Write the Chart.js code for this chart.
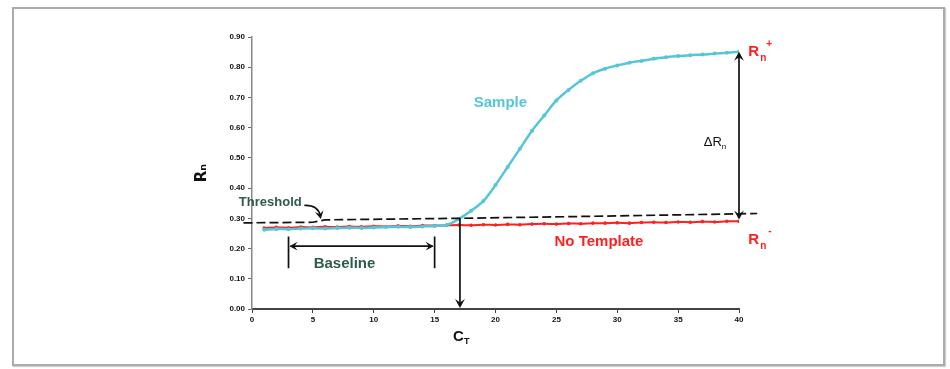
<!DOCTYPE html>
<html>
<head>
<meta charset="utf-8">
<script src="https://cdn.jsdelivr.net/npm/chart.js@4.4.1/dist/chart.umd.min.js"></script>
<style>
  body { margin: 0; background: #fff; }
  #wrap { position: relative; width: 950px; height: 369px; }
  #frame { position: absolute; left: 12px; top: 7px; width: 929px; height: 355px; border: 2px solid #ababab; box-shadow: 1px 1px 1px #d0d0d0; }
  #myChart { position: absolute; left: 0; top: 0; }
</style>
</head>
<body>
<div id="wrap">
  <div id="frame"></div>
  <canvas id="myChart" width="950" height="369"></canvas>
</div>
<script>
// amplification plot data
const cycles = [1, 2, 3, 4, 5, 6, 7, 8, 9, 10, 11, 12, 13, 14, 15, 16, 17, 18, 19, 20,
  21, 22, 23, 24, 25, 26, 27, 28, 29, 30, 31, 32, 33, 34, 35, 36, 37, 38, 39, 40]
const sampleRn = [0.262, 0.265, 0.264, 0.266, 0.267, 0.266, 0.268, 0.269, 0.268, 0.270,
  0.271, 0.272, 0.271, 0.273, 0.275, 0.278, 0.298, 0.325, 0.357, 0.410,
  0.470, 0.530, 0.590, 0.640, 0.690, 0.725, 0.755, 0.780, 0.795, 0.806,
  0.815, 0.821, 0.828, 0.833, 0.837, 0.840, 0.842, 0.845, 0.848, 0.851]
const noTemplateRn = [0.268, 0.270, 0.269, 0.271, 0.270, 0.272, 0.271, 0.273, 0.272, 0.274,
  0.273, 0.275, 0.274, 0.276, 0.276, 0.277, 0.278, 0.277, 0.279, 0.278,
  0.280, 0.279, 0.281, 0.282, 0.281, 0.283, 0.282, 0.284, 0.284, 0.285,
  0.284, 0.286, 0.287, 0.286, 0.288, 0.287, 0.289, 0.288, 0.290, 0.290]
const thresholdX = [-0.7, 5, 6, 17, 30, 41.5]
const thresholdY = [0.285, 0.287, 0.295, 0.300, 0.308, 0.316]
const xTickLabels = ['0', '5', '10', '15', '20', '25', '30', '35', '40']
const yTickLabels = ['0.00', '0.10', '0.20', '0.30', '0.40', '0.50', '0.60', '0.70', '0.80', '0.90']

const cyan = '#55c6d6'
const red = '#ff1f1f'
const green = '#2f5b4b'

const toPoints = (xs, ys) => xs.map((x, i) => ({ x: x, y: ys[i] }))

function arrowHead (ctx, x, y, angle, size) {
  ctx.save()
  ctx.translate(x, y)
  ctx.rotate(angle)
  ctx.beginPath()
  ctx.moveTo(0, 0)
  ctx.lineTo(-size, -size * 0.55)
  ctx.lineTo(-size * 0.6, 0)
  ctx.lineTo(-size, size * 0.55)
  ctx.closePath()
  ctx.fill()
  ctx.restore()
}

const annotations = {
  id: 'annotations',
  afterDatasetsDraw (chart) {
    const ctx = chart.ctx
    const xs = chart.scales.x
    const ys = chart.scales.y
    const px = v => xs.getPixelForValue(v)
    const py = v => ys.getPixelForValue(v)
    ctx.save()
    ctx.lineWidth = 1.7

    // baseline double arrow
    ctx.strokeStyle = '#111'
    ctx.fillStyle = '#111'
    ctx.beginPath()
    ctx.moveTo(px(3), py(0.24)); ctx.lineTo(px(3), py(0.135))
    ctx.moveTo(px(15), py(0.24)); ctx.lineTo(px(15), py(0.135))
    ctx.moveTo(px(3) + 2, py(0.208)); ctx.lineTo(px(15) - 2, py(0.208))
    ctx.stroke()
    arrowHead(ctx, px(3) + 1, py(0.208), Math.PI, 8)
    arrowHead(ctx, px(15) - 1, py(0.208), 0, 8)

    // Ct arrow down to the axis
    ctx.beginPath()
    ctx.moveTo(px(17.08), py(0.30)); ctx.lineTo(px(17.08), py(0) - 4)
    ctx.stroke()
    arrowHead(ctx, px(17.08), py(0) - 1, Math.PI / 2, 9)

    // delta Rn double arrow
    ctx.beginPath()
    ctx.moveTo(px(40), py(0.851) + 4); ctx.lineTo(px(40), py(0.296) - 4)
    ctx.stroke()
    arrowHead(ctx, px(40), py(0.851), -Math.PI / 2, 9)
    arrowHead(ctx, px(40), py(0.296), Math.PI / 2, 9)

    // threshold pointer
    ctx.beginPath()
    ctx.moveTo(px(4.3), py(0.343))
    ctx.quadraticCurveTo(px(5.4), py(0.345), px(5.6), py(0.31))
    ctx.stroke()
    arrowHead(ctx, px(5.65), py(0.298), Math.PI / 2 - 0.2, 8)

    // labels
    ctx.textBaseline = 'middle'
    ctx.textAlign = 'center'
    ctx.font = 'bold 13px "Liberation Sans", Arial, sans-serif'
    ctx.fillStyle = green
    ctx.fillText('Threshold', px(1.5), py(0.351))
    ctx.font = 'bold 15px "Liberation Sans", Arial, sans-serif'
    ctx.fillText('Baseline', px(7.6), py(0.15))
    ctx.fillStyle = cyan
    ctx.fillText('Sample', px(20.4), py(0.682))
    ctx.fillStyle = red
    ctx.fillText('No Template', px(28.5), py(0.222))

    ctx.fillStyle = '#111'
    ctx.font = '13px "Liberation Sans", Arial, sans-serif'
    ctx.textAlign = 'right'
    ctx.fillText('\u0394R', px(39) - 5, py(0.55))
    ctx.font = '8px "Liberation Sans", Arial, sans-serif'
    ctx.textAlign = 'left'
    ctx.fillText('n', px(39) - 5, py(0.55) + 4)

    // Rn+ and Rn-
    ctx.fillStyle = red
    ctx.font = 'bold 15px "Liberation Sans", Arial, sans-serif'
    ctx.fillText('R', px(40.75), py(0.85))
    ctx.fillText('R', px(40.75), py(0.228))
    ctx.font = 'bold 10px "Liberation Sans", Arial, sans-serif'
    ctx.fillText('n', px(40.75) + 12, py(0.85) + 6)
    ctx.fillText('+', px(40.75) + 18, py(0.85) - 8)
    ctx.fillText('n', px(40.75) + 12, py(0.228) + 6)
    ctx.fillText('-', px(40.75) + 20, py(0.228) - 9)

    // Ct axis label
    ctx.fillStyle = '#111'
    ctx.font = 'bold 15px "Liberation Sans", Arial, sans-serif'
    ctx.textAlign = 'right'
    ctx.fillText('C', px(17.08) + 4, py(0) + 28)
    ctx.font = 'bold 9px "Liberation Sans", Arial, sans-serif'
    ctx.textAlign = 'left'
    ctx.fillText('T', px(17.08) + 4, py(0) + 33)
    ctx.restore()
  }
}

const ctx = document.getElementById('myChart')
const myChart = new Chart(ctx, {
  type: 'line',
  data: {
    datasets: [{
      label: 'Threshold',
      data: toPoints(thresholdX, thresholdY),
      borderColor: '#111',
      borderWidth: 1.7,
      borderDash: [9, 4],
      pointRadius: 0,
      tension: 0,
      clip: false,
      order: 0
    }, {
      label: 'Sample',
      data: toPoints(cycles, sampleRn),
      borderColor: cyan,
      backgroundColor: cyan,
      borderWidth: 2.5,
      pointRadius: 2,
      pointBorderWidth: 0,
      tension: 0.3,
      order: 1
    }, {
      label: 'No Template',
      data: toPoints(cycles, noTemplateRn),
      borderColor: red,
      backgroundColor: red,
      borderWidth: 2,
      pointRadius: 1.8,
      pointBorderWidth: 0,
      tension: 0.3,
      order: 2
    }]
  },
  options: {
    responsive: false,
    animation: false,
    layout: {
      padding: { left: 193, right: 211, top: 37, bottom: 20 }
    },
    plugins: {
      legend: { display: false },
      tooltip: { enabled: false }
    },
    scales: {
      x: {
        type: 'linear',
        min: 0,
        max: 40,
        afterFit: scale => { scale.height = 40 },
        grid: { display: true, drawOnChartArea: false, tickLength: 4, color: '#444' },
        border: { color: '#444', width: 2 },
        ticks: {
          stepSize: 5,
          maxRotation: 0,
          padding: 2,
          color: '#111',
          font: { family: '"Liberation Sans", Arial, sans-serif', size: 8, weight: 'bold' },
          callback: (value, i) => xTickLabels[i]
        }
      },
      y: {
        min: 0,
        max: 0.9,
        afterFit: scale => { scale.width = 59 },
        grid: { display: true, drawOnChartArea: false, tickLength: 4, color: '#666' },
        border: { color: '#888', width: 1.5 },
        title: {
          display: true,
          text: 'R\u2099',
          color: '#111',
          padding: { top: 0, bottom: 14 },
          font: { family: '"DejaVu Sans", sans-serif', size: 15, weight: 'bold' }
        },
        ticks: {
          stepSize: 0.1,
          padding: 3,
          color: '#111',
          font: { family: '"Liberation Sans", Arial, sans-serif', size: 8, weight: 'bold' },
          callback: (value, i) => yTickLabels[i]
        }
      }
    }
  },
  plugins: [annotations]
})
</script>
</body>
</html>
